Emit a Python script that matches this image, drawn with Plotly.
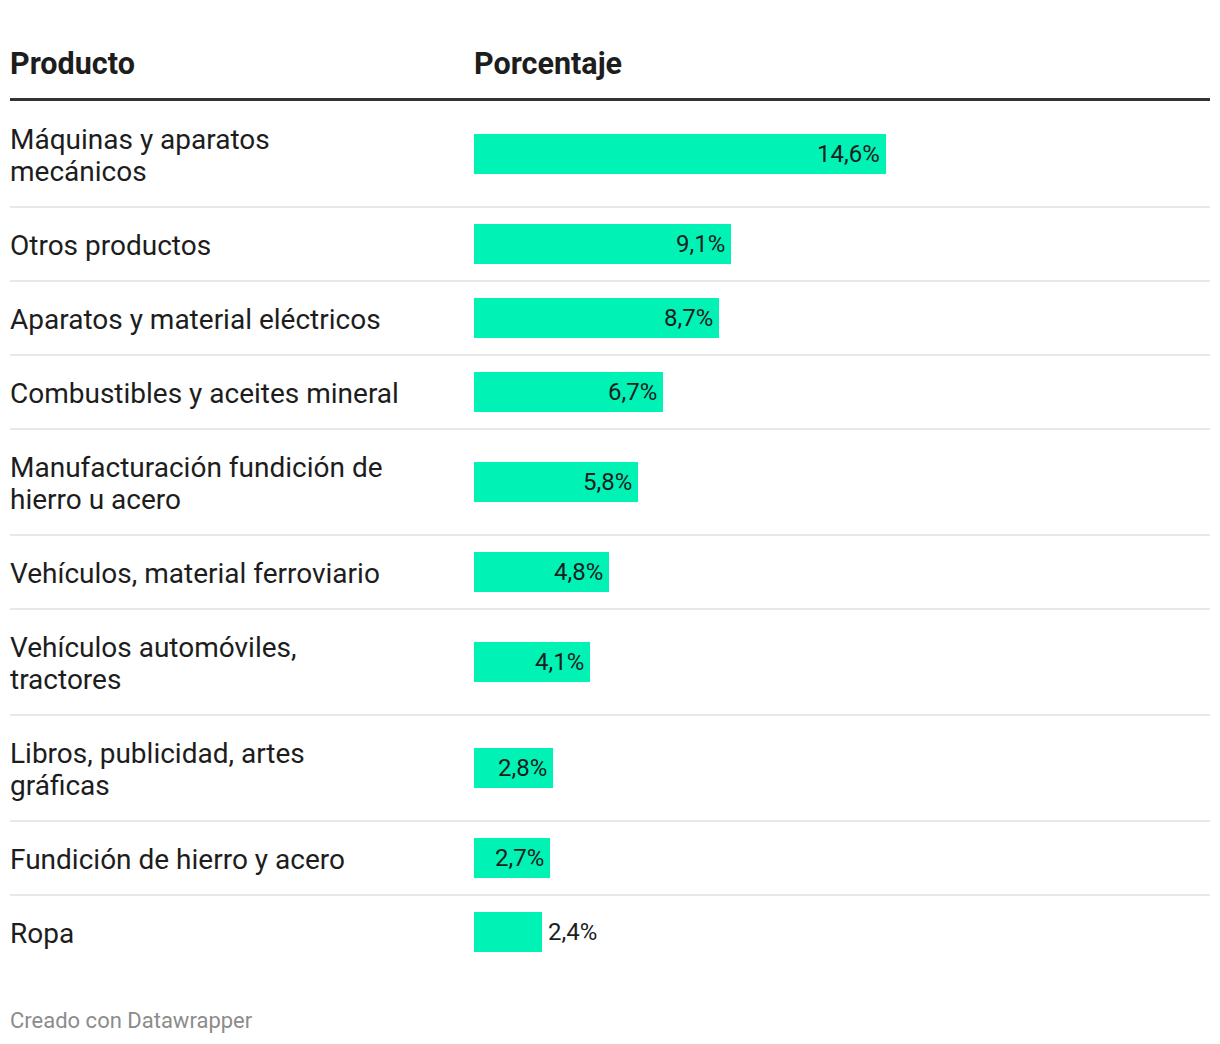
import plotly.graph_objects as go

# ---- data ----
productos = [
    "Máquinas y aparatos<br>mecánicos",
    "Otros productos",
    "Aparatos y material eléctricos",
    "Combustibles y aceites mineral",
    "Manufacturación fundición de<br>hierro u acero",
    "Vehículos, material ferroviario",
    "Vehículos automóviles,<br>tractores",
    "Libros, publicidad, artes<br>gráficas",
    "Fundición de hierro y acero",
    "Ropa",
]
porcentajes = [14.6, 9.1, 8.7, 6.7, 5.8, 4.8, 4.1, 2.8, 2.7, 2.4]
col_headers = ["Producto", "Porcentaje"]
footer = "Creado con Datawrapper"

# ---- layout constants (page pixels; the HTML body adds an 8px margin) ----
OFF = 8
W, H = 1220 - OFF, 1044 - OFF
LEFT, RIGHT = 10 - OFF, 1210 - OFF
TXT_X = LEFT - 2
BAR_X0 = 474 - OFF
TOP = 101 - OFF
LINE_H = 32
ROW_BASE = 74
BAR_H = 40
PX_PER_UNIT = 28.2
TEXT = "#1d1d1d"
BAR_COLOR = "#00F2B5"
FONT = "Roboto"

# row geometry derived from number of label lines
row_centers, row_bounds = [], []
y = TOP
for lab in productos:
    n = lab.count("<br>") + 1
    h = ROW_BASE + (n - 1) * LINE_H
    row_centers.append(y + h / 2)
    row_bounds.append(y + h)
    y += h

fig = go.Figure()
fig.add_trace(go.Bar(
    x=porcentajes, y=row_centers, orientation="h", width=BAR_H,
    marker=dict(color=BAR_COLOR, line=dict(width=0)),
    hoverinfo="skip", showlegend=False,
))

annotations = []
shapes = []

# headers
for txt, xp in zip(col_headers, [TXT_X, BAR_X0 - 2]):
    annotations.append(dict(
        xref="paper", yref="y", x=xp / W, y=63 - OFF, xanchor="left", yanchor="middle",
        text=f"<b>{txt}</b>", showarrow=False,
        font=dict(family=FONT, size=30.5, color=TEXT)))

# header rule
shapes.append(dict(type="line", xref="paper", yref="y", x0=LEFT / W, x1=RIGHT / W,
                   y0=99.5 - OFF, y1=99.5 - OFF, line=dict(color="#333333", width=3)))

# row labels + separators + values
for i, (lab, v, yc) in enumerate(zip(productos, porcentajes, row_centers)):
    lines = lab.split("<br>")
    n = len(lines)
    for j, ln in enumerate(lines):
        annotations.append(dict(
            xref="paper", yref="y", x=TXT_X / W, y=yc + 1 + (j - (n - 1) / 2) * LINE_H,
            xanchor="left", yanchor="middle", text=ln, showarrow=False,
            font=dict(family=FONT, size=28, color=TEXT)))
    label = f"{v:.1f}".replace(".", ",") + "%"
    inside = v > 2.5
    annotations.append(dict(
        xref="x", yref="y", x=v, y=yc, xanchor="right" if inside else "left",
        xshift=-4 if inside else 4, yanchor="middle", text=label, showarrow=False,
        font=dict(family=FONT, size=24, color=TEXT)))
    if i < len(productos) - 1:
        shapes.append(dict(type="line", xref="paper", yref="y", x0=LEFT / W, x1=RIGHT / W,
                           y0=row_bounds[i], y1=row_bounds[i],
                           line=dict(color="#e8e8e8", width=2)))

annotations.append(dict(
    xref="paper", yref="y", x=TXT_X / W, y=1020 - OFF, xanchor="left", yanchor="middle",
    text=footer, showarrow=False, font=dict(family=FONT, size=22, color="#8c8c8c")))

fig.update_layout(
    width=W, height=H, margin=dict(l=0, r=0, t=0, b=0),
    paper_bgcolor="white", plot_bgcolor="white",
    xaxis=dict(domain=[BAR_X0 / W, RIGHT / W], range=[0, (RIGHT - BAR_X0) / PX_PER_UNIT],
               visible=False, fixedrange=True),
    yaxis=dict(domain=[0, 1], range=[H, 0], visible=False, fixedrange=True),
    annotations=annotations, shapes=shapes, bargap=0,
    font=dict(family=FONT),
)

fig.write_html("out.html", config={"displayModeBar": False})
